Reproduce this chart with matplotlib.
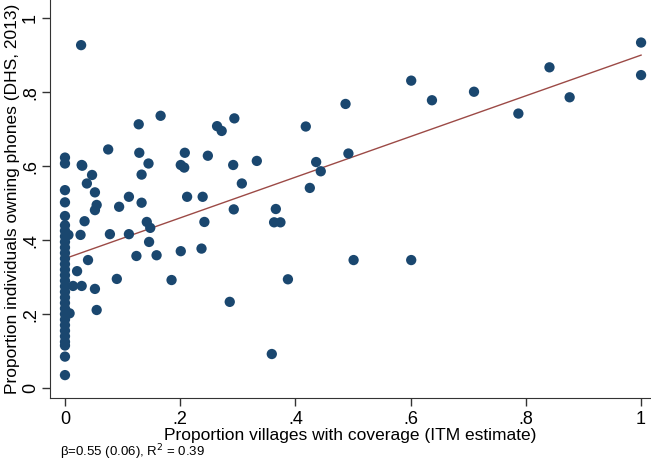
import matplotlib.pyplot as plt
import numpy as np

plt.rcParams['font.family'] = ['Liberation Sans', 'DejaVu Sans']

# villages with zero coverage (x = 0)
y_zero = [0.623, 0.607, 0.535, 0.502, 0.465, 0.44, 0.425, 0.41, 0.395, 0.38,
          0.365, 0.35, 0.335, 0.32, 0.305, 0.29, 0.275, 0.26, 0.245, 0.23,
          0.215, 0.20, 0.185, 0.17, 0.155, 0.14, 0.125, 0.115, 0.085, 0.035]

# remaining districts
x_pts = [0.006, 0.008, 0.014, 0.021, 0.027, 0.028, 0.029, 0.029, 0.030, 0.034,
         0.038, 0.040, 0.047, 0.052, 0.052, 0.052, 0.055, 0.055, 0.075, 0.078,
         0.090, 0.094, 0.111, 0.111, 0.124, 0.128, 0.129, 0.133, 0.133, 0.142,
         0.145, 0.146, 0.148, 0.159, 0.166, 0.185, 0.201, 0.201, 0.207, 0.208,
         0.212, 0.237, 0.239, 0.242, 0.248, 0.264, 0.272, 0.286, 0.292, 0.293,
         0.294, 0.307, 0.333, 0.359, 0.363, 0.366, 0.374, 0.387, 0.418, 0.425,
         0.436, 0.444, 0.487, 0.492, 0.501, 0.601, 0.601, 0.637, 0.710, 0.787,
         0.841, 0.876, 1.0, 1.0]
y_pts = [0.414, 0.202, 0.276, 0.316, 0.414, 0.927, 0.276, 0.603, 0.601, 0.451,
         0.553, 0.346, 0.576, 0.529, 0.481, 0.268, 0.495, 0.211, 0.645, 0.416,
         0.295, 0.490, 0.517, 0.416, 0.357, 0.713, 0.636, 0.577, 0.501, 0.449,
         0.607, 0.395, 0.433, 0.359, 0.736, 0.292, 0.603, 0.370, 0.596, 0.636,
         0.517, 0.377, 0.517, 0.449, 0.628, 0.708, 0.695, 0.233, 0.603, 0.483,
         0.729, 0.553, 0.614, 0.092, 0.448, 0.484, 0.448, 0.294, 0.707, 0.541,
         0.611, 0.586, 0.768, 0.634, 0.346, 0.831, 0.346, 0.778, 0.801, 0.742,
         0.867, 0.786, 0.934, 0.846]

# fitted line
beta = 0.55
intercept = 0.35
note = 'β=0.55 (0.06), R$^2$ = 0.39'

x_all = [0.0] * len(y_zero) + x_pts
y_all = y_zero + y_pts

fig = plt.figure(figsize=(6.51, 4.65), dpi=100)
ax = fig.add_axes([0.0768, 0.144, 0.923, 0.856])

ax.scatter(x_all, y_all, s=55, color='#1a476f', edgecolors='none', zorder=3)
xf = np.array([0.0, 1.0])
ax.plot(xf, intercept + beta * xf, color='#9c4a46', linewidth=1.0, zorder=2)

ax.set_xlim(-0.026, 1.017)
ax.set_ylim(-0.027, 1.049)
ax.set_xticks([0, 0.2, 0.4, 0.6, 0.8, 1.0])
ax.set_xticklabels(['0', '.2', '.4', '.6', '.8', '1'], fontsize=13)
ax.set_yticks([0, 0.2, 0.4, 0.6, 0.8, 1.0])
ax.set_yticklabels(['0', '.2', '.4', '.6', '.8', '1'], fontsize=13,
                   rotation=90, va='center')
ax.tick_params(direction='out', length=6, width=1, color='#333333')
ax.tick_params(axis='x', pad=3)
ax.tick_params(axis='y', pad=2)
ax.spines['top'].set_visible(False)
ax.spines['right'].set_visible(False)
for s in ['left', 'bottom']:
    ax.spines[s].set_color('#333333')

ax.set_xlabel('Proportion villages with coverage (ITM estimate)', fontsize=12.5, labelpad=0)
ax.set_ylabel('Proportion individuals owning phones (DHS, 2013)', fontsize=12.5, labelpad=1)

fig.text(0.092, 0.018, note, fontsize=9.5)

fig.savefig('out.png', dpi=100)
